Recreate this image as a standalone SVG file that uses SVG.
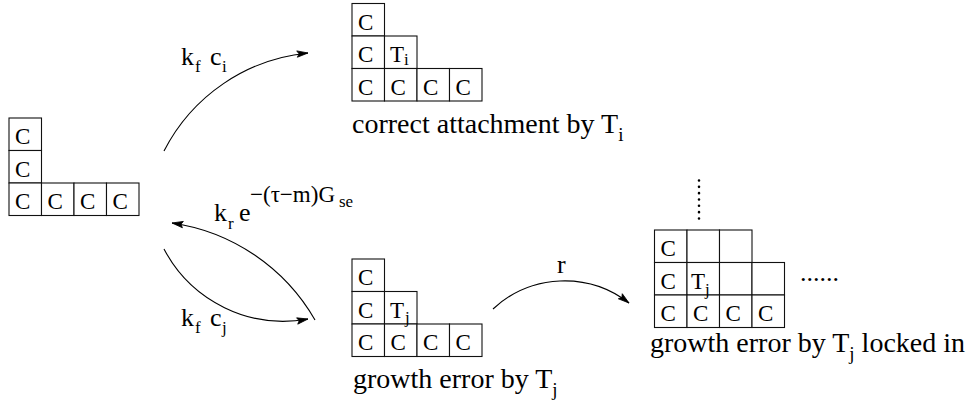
<svg xmlns="http://www.w3.org/2000/svg" width="980" height="402" viewBox="0 0 980 402">
<defs>
<marker id="arr" markerUnits="userSpaceOnUse" markerWidth="14" markerHeight="10" refX="11" refY="4" orient="auto" overflow="visible">
<path d="M0,0.8 L11,4 L0,7.2 L2,4 z" fill="#000" stroke="#000" stroke-width="0.8"/>
</marker>
<style>
.cell{fill:#fff;stroke:#111;stroke-width:1.1}
.c{font-size:23px;fill:#000}
.sub{font-size:17px;fill:#000}
.lbl{font-size:26px;fill:#000}
.cap{font-size:28px;fill:#000}
.capsub{font-size:19px;fill:#000}
.edge{fill:none;stroke:#000;stroke-width:1.1}
</style>
</defs>
<rect width="980" height="402" fill="#fff"/>

<g id="node-initial" font-family="Liberation Serif">
<rect class="cell" x="9" y="118" width="32.5" height="32.5"/>
<rect class="cell" x="9" y="150.5" width="32.5" height="32.5"/>
<rect class="cell" x="9" y="183" width="32.5" height="32.5"/>
<rect class="cell" x="41.5" y="183" width="32.5" height="32.5"/>
<rect class="cell" x="74" y="183" width="32.5" height="32.5"/>
<rect class="cell" x="106.5" y="183" width="32.5" height="32.5"/>
<text class="c" x="15" y="144">C</text>
<text class="c" x="15" y="176.5">C</text>
<text class="c" x="15" y="209">C</text>
<text class="c" x="47.5" y="209">C</text>
<text class="c" x="80" y="209">C</text>
<text class="c" x="112.5" y="209">C</text>
</g>

<g id="node-correct" font-family="Liberation Serif">
<rect class="cell" x="352" y="3.5" width="32.5" height="32.5"/>
<rect class="cell" x="352" y="36" width="32.5" height="32.5"/>
<rect class="cell" x="384.5" y="36" width="32.5" height="32.5"/>
<rect class="cell" x="352" y="68.5" width="32.5" height="32.5"/>
<rect class="cell" x="384.5" y="68.5" width="32.5" height="32.5"/>
<rect class="cell" x="417" y="68.5" width="32.5" height="32.5"/>
<rect class="cell" x="449.5" y="68.5" width="32.5" height="32.5"/>
<text class="c" x="358" y="29.5">C</text>
<text class="c" x="358" y="62">C</text>
<text class="c" x="390" y="62">T</text>
<text class="sub" x="404" y="65">i</text>
<text class="c" x="358" y="94.5">C</text>
<text class="c" x="390.5" y="94.5">C</text>
<text class="c" x="423" y="94.5">C</text>
<text class="c" x="455.5" y="94.5">C</text>
<text class="cap" x="352" y="133">correct attachment by T<tspan class="capsub" dy="8">i</tspan></text>
</g>

<g id="node-error" font-family="Liberation Serif">
<rect class="cell" x="352" y="259" width="32.5" height="32.5"/>
<rect class="cell" x="352" y="291.5" width="32.5" height="32.5"/>
<rect class="cell" x="384.5" y="291.5" width="32.5" height="32.5"/>
<rect class="cell" x="352" y="324" width="32.5" height="32.5"/>
<rect class="cell" x="384.5" y="324" width="32.5" height="32.5"/>
<rect class="cell" x="417" y="324" width="32.5" height="32.5"/>
<rect class="cell" x="449.5" y="324" width="32.5" height="32.5"/>
<text class="c" x="358" y="285">C</text>
<text class="c" x="358" y="317.5">C</text>
<text class="c" x="390" y="317.5">T</text>
<text class="sub" x="405" y="323">j</text>
<text class="c" x="358" y="350">C</text>
<text class="c" x="390.5" y="350">C</text>
<text class="c" x="423" y="350">C</text>
<text class="c" x="455.5" y="350">C</text>
<text class="cap" x="353" y="388">growth error by T<tspan class="capsub" dy="8">j</tspan></text>
</g>

<g id="node-locked" font-family="Liberation Serif">
<rect class="cell" x="654.5" y="230" width="32.5" height="32.5"/>
<rect class="cell" x="687" y="230" width="32.5" height="32.5"/>
<rect class="cell" x="719.5" y="230" width="32.5" height="32.5"/>
<rect class="cell" x="654.5" y="262.5" width="32.5" height="32.5"/>
<rect class="cell" x="687" y="262.5" width="32.5" height="32.5"/>
<rect class="cell" x="719.5" y="262.5" width="32.5" height="32.5"/>
<rect class="cell" x="752" y="262.5" width="32.5" height="32.5"/>
<rect class="cell" x="654.5" y="295" width="32.5" height="32.5"/>
<rect class="cell" x="687" y="295" width="32.5" height="32.5"/>
<rect class="cell" x="719.5" y="295" width="32.5" height="32.5"/>
<rect class="cell" x="752" y="295" width="32.5" height="32.5"/>
<text class="c" x="660.5" y="256">C</text>
<text class="c" x="660.5" y="288.5">C</text>
<text class="c" x="691" y="288.5">T</text>
<text class="sub" x="705" y="294.5">j</text>
<text class="c" x="660.5" y="321">C</text>
<text class="c" x="693" y="321">C</text>
<text class="c" x="725.5" y="321">C</text>
<text class="c" x="758" y="321">C</text>
<line x1="699" y1="180.5" x2="699" y2="218.5" stroke="#000" stroke-width="2.6" stroke-linecap="round" stroke-dasharray="0 6.33"/>
<text class="lbl" x="800" y="281">......</text>
<text class="cap" x="650" y="352">growth error by T<tspan class="capsub" dy="8">j</tspan><tspan dy="-8"> locked in</tspan></text>
</g>

<g id="connectors">
<path class="edge" d="M164,151 A181.4,181.4 0 0 1 308,53" marker-end="url(#arr)"/>
<path class="edge" d="M315,320 A197.8,197.8 0 0 0 172,223" marker-end="url(#arr)"/>
<path class="edge" d="M164,249 A135,135 0 0 0 308,319" marker-end="url(#arr)"/>
<path class="edge" d="M493,309 A105,105 0 0 1 629,303" marker-end="url(#arr)"/>
</g>

<g id="edge-labels" font-family="Liberation Serif">
<text class="lbl" x="181" y="65">k</text>
<text class="sub" x="195" y="72">f</text>
<text class="lbl" x="210" y="65">c</text>
<text class="sub" x="222" y="72">i</text>

<text class="lbl" x="214" y="221">k</text>
<text class="sub" x="228" y="229">r</text>
<text class="lbl" x="239" y="221">e</text>
<text x="250" y="202" font-size="23">−(τ−m)G</text>
<text class="sub" x="339" y="207" font-size="16">se</text>

<text class="lbl" x="181" y="326">k</text>
<text class="sub" x="195" y="333">f</text>
<text class="lbl" x="210" y="326">c</text>
<text class="sub" x="222" y="333">j</text>

<text class="lbl" x="557" y="273">r</text>
</g>
</svg>
